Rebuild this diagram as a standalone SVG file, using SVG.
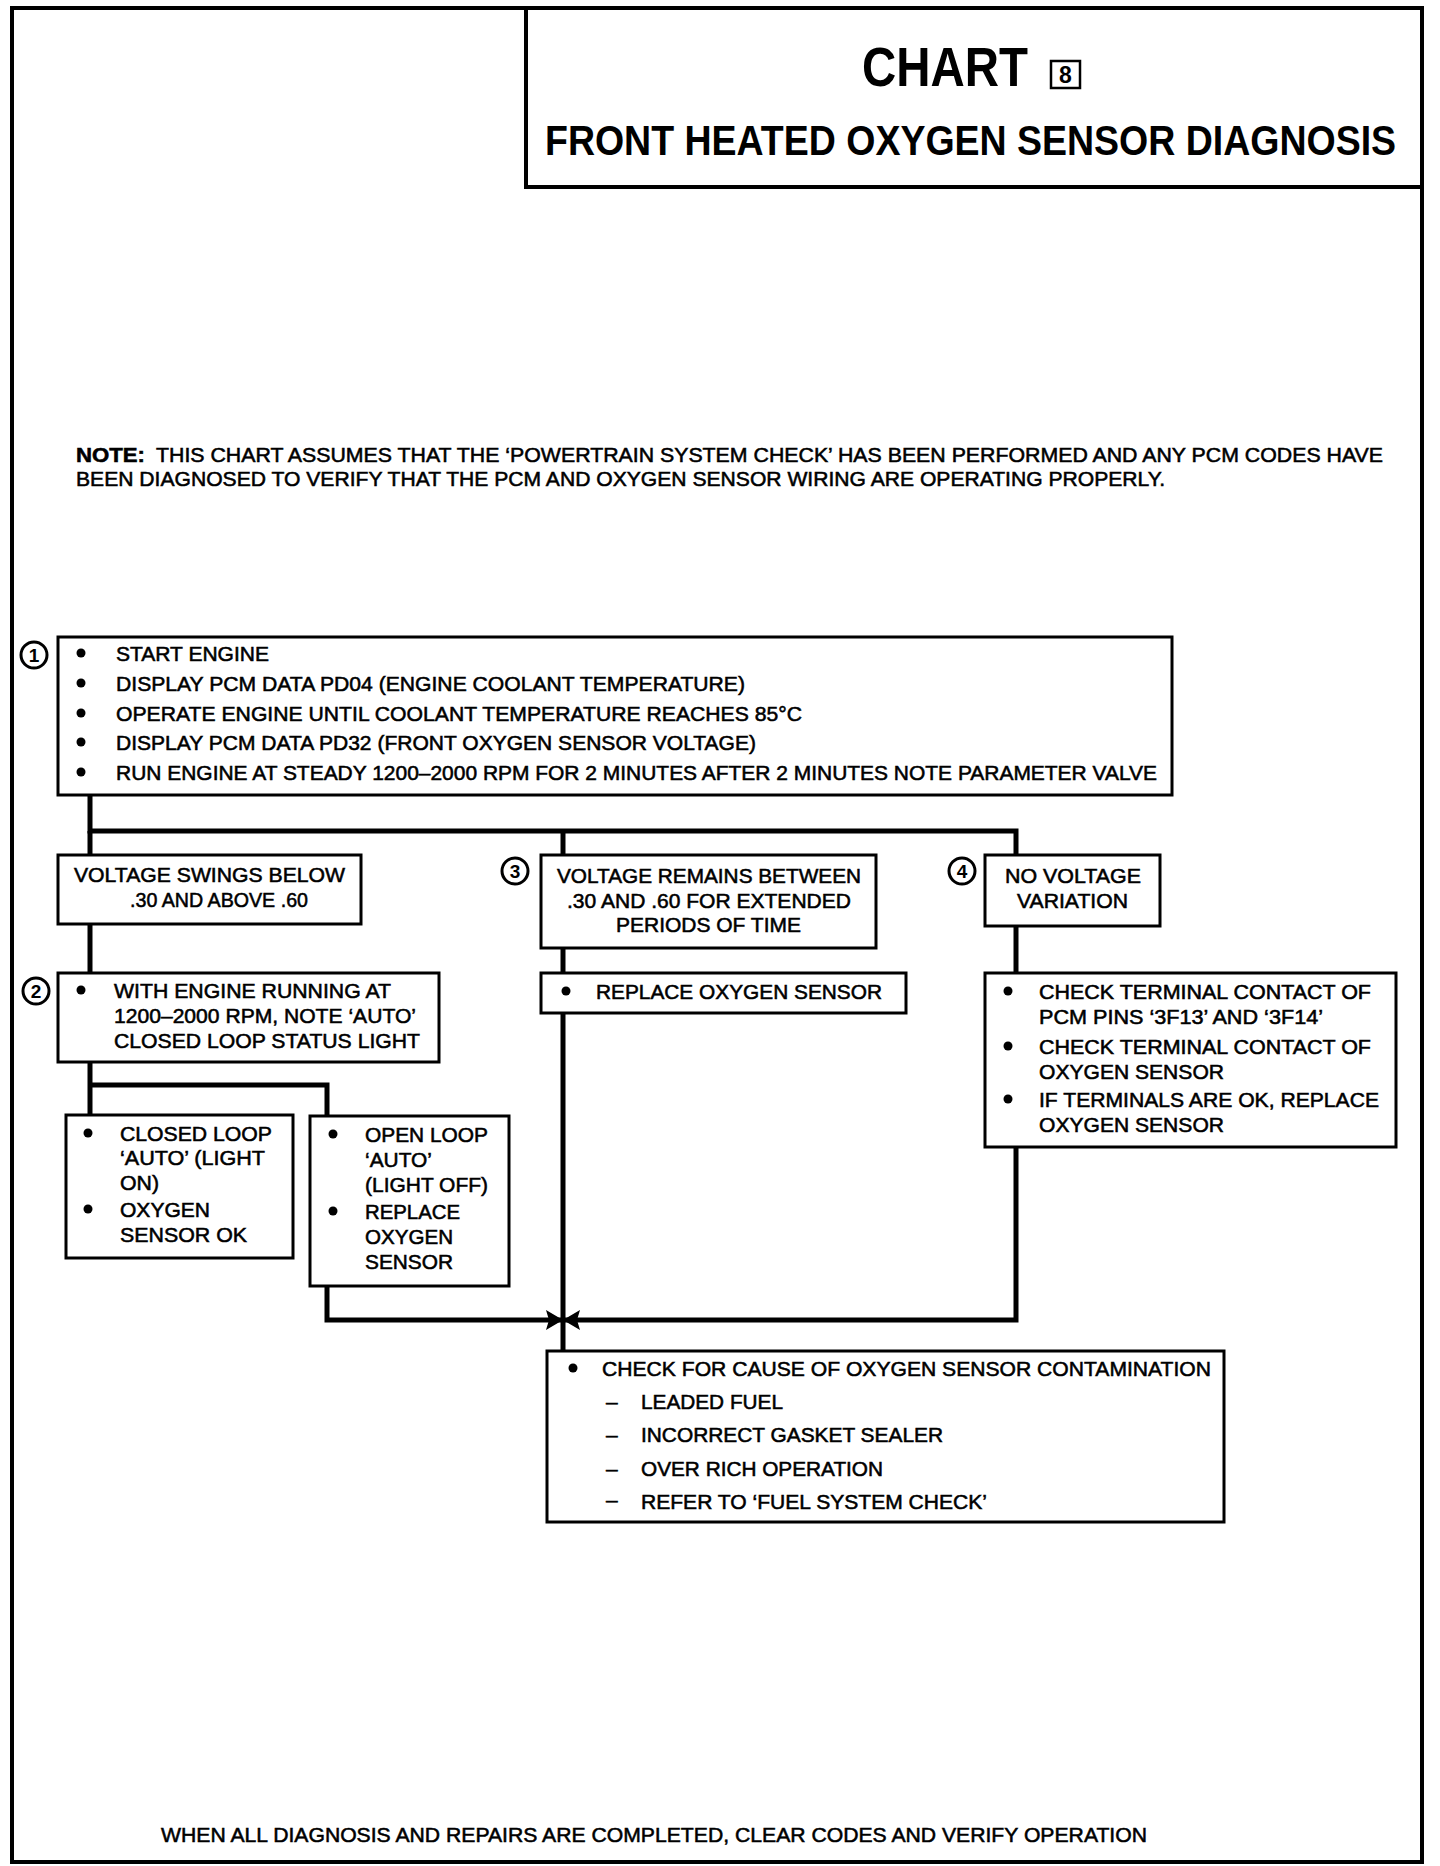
<svg xmlns="http://www.w3.org/2000/svg" width="1440" height="1866" viewBox="0 0 1440 1866">
<style>
text{font-family:"Liberation Sans",Arial,sans-serif;fill:#000}
.t{font-size:21px;stroke:#000;stroke-width:0.55}
.b{font-weight:bold}
.box{fill:#fff;stroke:#000;stroke-width:3}
.frame{fill:none;stroke:#000;stroke-width:4}
.conn{fill:none;stroke:#000;stroke-width:5}
.num{fill:#fff;stroke:#000;stroke-width:3}
.n{font-size:19px;font-weight:bold;text-anchor:middle}
</style>
<defs>
<marker id="ah" markerUnits="userSpaceOnUse" markerWidth="18" markerHeight="22" refX="17" refY="11" orient="auto">
<path d="M0,1 L17,11 L0,21 L3,11 z" fill="#000"/>
</marker>
</defs>
<rect width="1440" height="1866" fill="#fff"/>
<rect class="frame" x="12" y="8" width="1410" height="1854"/>

<g id="title">
<rect class="frame" x="526" y="8" width="896" height="179"/>
<text class="b" x="862" y="86" font-size="55" textLength="166" lengthAdjust="spacingAndGlyphs">CHART</text>
<rect x="1051" y="61" width="29" height="27" fill="none" stroke="#000" stroke-width="2.5"/>
<text class="b" x="1065.5" y="83" font-size="23" text-anchor="middle">8</text>
<text class="b" transform="translate(545,155) scale(0.872,1)" x="0" y="0" font-size="43">FRONT HEATED OXYGEN SENSOR DIAGNOSIS</text>
</g>

<g id="note">
<text class="t b" x="76" y="462" textLength="69" lengthAdjust="spacingAndGlyphs">NOTE:</text>
<text class="t" x="156" y="462" textLength="1227" lengthAdjust="spacingAndGlyphs">THIS CHART ASSUMES THAT THE ‘POWERTRAIN SYSTEM CHECK’ HAS BEEN PERFORMED AND ANY PCM CODES HAVE</text>
<text class="t" x="76" y="486" textLength="1089" lengthAdjust="spacingAndGlyphs">BEEN DIAGNOSED TO VERIFY THAT THE PCM AND OXYGEN SENSOR WIRING ARE OPERATING PROPERLY.</text>
</g>

<g id="connectors">
<path class="conn" d="M90,795 V831 H1016 V855"/>
<path class="conn" d="M90,831 V855"/>
<path class="conn" d="M563,831 V855"/>
<path class="conn" d="M563,948 V973"/>
<path class="conn" d="M563,1013 V1351"/>
<path class="conn" d="M1016,926 V973"/>
<path class="conn" d="M90,924 V973"/>
<path class="conn" d="M90,1062 V1115"/>
<path class="conn" d="M90,1085 H327 V1116"/>
<path class="conn" d="M327,1286 V1320 H563" marker-end="url(#ah)"/>
<path class="conn" d="M1016,1147 V1320 H563" marker-end="url(#ah)"/>
</g>

<g id="step1">
<rect class="box" x="58" y="637" width="1114" height="158"/>
<circle class="num" cx="34" cy="655" r="13"/>
<text class="n" x="34" y="662">1</text>
<circle cx="81" cy="653" r="4.5"/>
<circle cx="81" cy="683" r="4.5"/>
<circle cx="81" cy="713" r="4.5"/>
<circle cx="81" cy="742" r="4.5"/>
<circle cx="81" cy="772" r="4.5"/>
<text class="t" x="116" y="661" textLength="153" lengthAdjust="spacingAndGlyphs">START ENGINE</text>
<text class="t" x="116" y="691" textLength="629" lengthAdjust="spacingAndGlyphs">DISPLAY PCM DATA PD04 (ENGINE COOLANT TEMPERATURE)</text>
<text class="t" x="116" y="721" textLength="686" lengthAdjust="spacingAndGlyphs">OPERATE ENGINE UNTIL COOLANT TEMPERATURE REACHES 85°C</text>
<text class="t" x="116" y="750" textLength="640" lengthAdjust="spacingAndGlyphs">DISPLAY PCM DATA PD32 (FRONT OXYGEN SENSOR VOLTAGE)</text>
<text class="t" x="116" y="780" textLength="1041" lengthAdjust="spacingAndGlyphs">RUN ENGINE AT STEADY 1200–2000 RPM FOR 2 MINUTES AFTER 2 MINUTES NOTE PARAMETER VALVE</text>
</g>

<g id="swings">
<rect class="box" x="58" y="855" width="303" height="69"/>
<text class="t" x="74" y="882" textLength="271" lengthAdjust="spacingAndGlyphs">VOLTAGE SWINGS BELOW</text>
<text class="t" x="130" y="907" textLength="178" lengthAdjust="spacingAndGlyphs">.30 AND ABOVE .60</text>
</g>

<g id="step2">
<rect class="box" x="58" y="973" width="381" height="89"/>
<circle class="num" cx="36" cy="991" r="13"/>
<text class="n" x="36" y="998">2</text>
<circle cx="81" cy="990" r="4.5"/>
<text class="t" x="114" y="998" textLength="277" lengthAdjust="spacingAndGlyphs">WITH ENGINE RUNNING AT</text>
<text class="t" x="114" y="1023" textLength="302" lengthAdjust="spacingAndGlyphs">1200–2000 RPM, NOTE ‘AUTO’</text>
<text class="t" x="114" y="1048" textLength="306" lengthAdjust="spacingAndGlyphs">CLOSED LOOP STATUS LIGHT</text>
</g>

<g id="closed">
<rect class="box" x="66" y="1115" width="227" height="143"/>
<circle cx="88" cy="1133" r="4.5"/>
<circle cx="88" cy="1209" r="4.5"/>
<text class="t" x="120" y="1141" textLength="152" lengthAdjust="spacingAndGlyphs">CLOSED LOOP</text>
<text class="t" x="120" y="1165" textLength="145" lengthAdjust="spacingAndGlyphs">‘AUTO’ (LIGHT</text>
<text class="t" x="120" y="1190" textLength="39" lengthAdjust="spacingAndGlyphs">ON)</text>
<text class="t" x="120" y="1217" textLength="90" lengthAdjust="spacingAndGlyphs">OXYGEN</text>
<text class="t" x="120" y="1242" textLength="127" lengthAdjust="spacingAndGlyphs">SENSOR OK</text>
</g>

<g id="open">
<rect class="box" x="310" y="1116" width="199" height="170"/>
<circle cx="333" cy="1134" r="4.5"/>
<circle cx="333" cy="1211" r="4.5"/>
<text class="t" x="365" y="1142" textLength="123" lengthAdjust="spacingAndGlyphs">OPEN LOOP</text>
<text class="t" x="365" y="1167" textLength="67" lengthAdjust="spacingAndGlyphs">‘AUTO’</text>
<text class="t" x="365" y="1192" textLength="123" lengthAdjust="spacingAndGlyphs">(LIGHT OFF)</text>
<text class="t" x="365" y="1219" textLength="95" lengthAdjust="spacingAndGlyphs">REPLACE</text>
<text class="t" x="365" y="1244" textLength="88" lengthAdjust="spacingAndGlyphs">OXYGEN</text>
<text class="t" x="365" y="1269" textLength="88" lengthAdjust="spacingAndGlyphs">SENSOR</text>
</g>

<g id="step3">
<rect class="box" x="541" y="855" width="335" height="93"/>
<circle class="num" cx="515" cy="871" r="13"/>
<text class="n" x="515" y="878">3</text>
<text class="t" x="557" y="883" textLength="304" lengthAdjust="spacingAndGlyphs">VOLTAGE REMAINS BETWEEN</text>
<text class="t" x="567" y="908" textLength="284" lengthAdjust="spacingAndGlyphs">.30 AND .60 FOR EXTENDED</text>
<text class="t" x="616" y="932" textLength="185" lengthAdjust="spacingAndGlyphs">PERIODS OF TIME</text>
</g>

<g id="replace">
<rect class="box" x="541" y="973" width="365" height="40"/>
<circle cx="566" cy="991" r="4.5"/>
<text class="t" x="596" y="999" textLength="286" lengthAdjust="spacingAndGlyphs">REPLACE OXYGEN SENSOR</text>
</g>

<g id="step4">
<rect class="box" x="985" y="855" width="175" height="71"/>
<circle class="num" cx="962" cy="871" r="13"/>
<text class="n" x="962" y="878">4</text>
<text class="t" x="1005" y="883" textLength="136" lengthAdjust="spacingAndGlyphs">NO VOLTAGE</text>
<text class="t" x="1017" y="908" textLength="111" lengthAdjust="spacingAndGlyphs">VARIATION</text>
</g>

<g id="terminals">
<rect class="box" x="985" y="973" width="411" height="174"/>
<circle cx="1008" cy="991" r="4.5"/>
<circle cx="1008" cy="1046" r="4.5"/>
<circle cx="1008" cy="1099" r="4.5"/>
<text class="t" x="1039" y="999" textLength="332" lengthAdjust="spacingAndGlyphs">CHECK TERMINAL CONTACT OF</text>
<text class="t" x="1039" y="1024" textLength="284" lengthAdjust="spacingAndGlyphs">PCM PINS ‘3F13’ AND ‘3F14’</text>
<text class="t" x="1039" y="1054" textLength="332" lengthAdjust="spacingAndGlyphs">CHECK TERMINAL CONTACT OF</text>
<text class="t" x="1039" y="1079" textLength="185" lengthAdjust="spacingAndGlyphs">OXYGEN SENSOR</text>
<text class="t" x="1039" y="1107" textLength="340" lengthAdjust="spacingAndGlyphs">IF TERMINALS ARE OK, REPLACE</text>
<text class="t" x="1039" y="1132" textLength="185" lengthAdjust="spacingAndGlyphs">OXYGEN SENSOR</text>
</g>

<g id="contamination">
<rect class="box" x="547" y="1351" width="677" height="171"/>
<circle cx="573" cy="1368" r="4.5"/>
<text class="t" x="602" y="1376" textLength="609" lengthAdjust="spacingAndGlyphs">CHECK FOR CAUSE OF OXYGEN SENSOR CONTAMINATION</text>
<text class="t" x="606" y="1409">–</text>
<text class="t" x="606" y="1442">–</text>
<text class="t" x="606" y="1476">–</text>
<text class="t" x="606" y="1507">–</text>
<text class="t" x="641" y="1409" textLength="142" lengthAdjust="spacingAndGlyphs">LEADED FUEL</text>
<text class="t" x="641" y="1442" textLength="302" lengthAdjust="spacingAndGlyphs">INCORRECT GASKET SEALER</text>
<text class="t" x="641" y="1476" textLength="242" lengthAdjust="spacingAndGlyphs">OVER RICH OPERATION</text>
<text class="t" x="641" y="1509" textLength="346" lengthAdjust="spacingAndGlyphs">REFER TO ‘FUEL SYSTEM CHECK’</text>
</g>

<g id="footer">
<text class="t" x="161" y="1842" textLength="986" lengthAdjust="spacingAndGlyphs">WHEN ALL DIAGNOSIS AND REPAIRS ARE COMPLETED, CLEAR CODES AND VERIFY OPERATION</text>
</g>
</svg>
